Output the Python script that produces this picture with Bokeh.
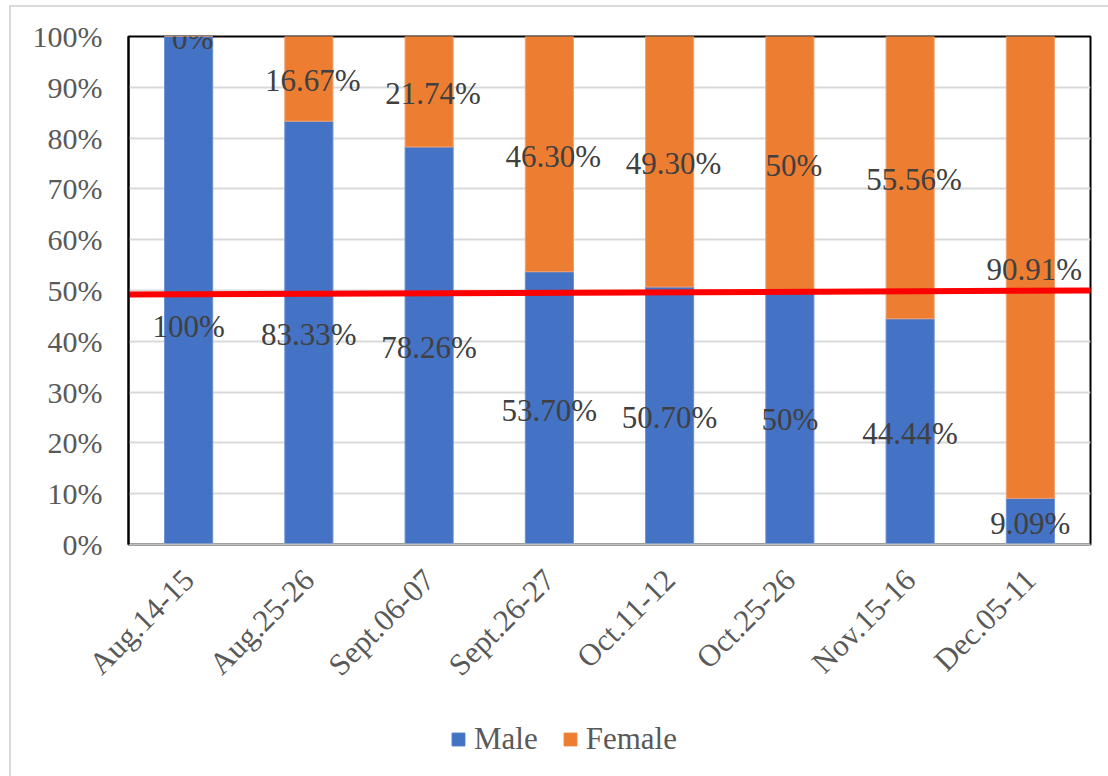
import math
from bokeh.plotting import figure
from bokeh.layouts import column
from bokeh.models import ColumnDataSource, Legend, LegendItem, FactorRange, NumeralTickFormatter, FixedTicker, Range1d
from bokeh.core.properties import value
from bokeh.embed import file_html
from bokeh.resources import INLINE

categories = ["Aug.14-15", "Aug.25-26", "Sept.06-07", "Sept.26-27",
              "Oct.11-12", "Oct.25-26", "Nov.15-16", "Dec.05-11"]
male = [100, 83.33, 78.26, 53.70, 50.70, 50, 44.44, 9.09]
female = [0, 16.67, 21.74, 46.30, 49.30, 50, 55.56, 90.91]
male_labels = ["100%", "83.33%", "78.26%", "53.70%", "50.70%", "50%", "44.44%", "9.09%"]
female_labels = ["0%", "16.67%", "21.74%", "46.30%", "49.30%", "50%", "55.56%", "90.91%"]
series_names = ["Male", "Female"]
y_ticks = [0, 10, 20, 30, 40, 50, 60, 70, 80, 90, 100]
ref_line_y = [49.2, 50.0]

BLUE = "#4472C4"
ORANGE = "#ED7D31"
FONT = "Liberation Serif"

W = 1097
p = figure(x_range=FactorRange(*categories, range_padding=0), y_range=Range1d(0, 100),
           width=W, height=704, output_backend="svg", toolbar_location=None,
           min_border_left=117, min_border_right=18, min_border_top=29, min_border_bottom=167)
p.frame_width = 962
p.frame_height = 508

src = ColumnDataSource(dict(
    cat=categories,
    male_top=male, female_bottom=male, female_top=[m + f for m, f in zip(male, female)],
))

p.vbar(x="cat", bottom=0, top="male_top", width=0.4, source=src,
       fill_color=BLUE, line_color="#6a8fd4", line_width=1)
p.vbar(x="cat", bottom="female_bottom", top="female_top", width=0.4, source=src,
       fill_color=ORANGE, line_color="#f0a070", line_width=1)

# reference line
p.line(x=[-0.01, 8.02], y=ref_line_y, line_color="#FF0000", line_width=6)

# data labels
LAB = dict(text_align="center", text_baseline="middle", text_font=value(FONT),
           text_font_size="31px", text_color="#404040")
lab_m = ColumnDataSource(dict(cat=categories[1:], y=[m / 2 for m in male[1:]], t=male_labels[1:]))
p.text(x="cat", y="y", text="t", source=lab_m, y_offset=2, **LAB)
lab_m0 = ColumnDataSource(dict(cat=categories[:1], y=[male[0] / 2], t=male_labels[:1]))
p.text(x="cat", y="y", text="t", source=lab_m0, y_offset=36, **LAB)
lab_f = ColumnDataSource(dict(cat=categories, y=[m + f / 2 for m, f in zip(male, female)], t=female_labels))
p.text(x="cat", y="y", text="t", source=lab_f, x_offset=4, y_offset=2, **LAB)

# axes
p.yaxis.ticker = FixedTicker(ticks=y_ticks)
p.yaxis.formatter = NumeralTickFormatter(format="0")
p.yaxis.major_label_overrides = {t: f"{t}%" for t in y_ticks}
p.yaxis.major_label_text_font = FONT
p.yaxis.major_label_text_font_size = "30px"
p.yaxis.major_label_text_color = "#595959"
p.yaxis.major_tick_line_color = None
p.yaxis.major_tick_out = 0
p.yaxis.minor_tick_line_color = None
p.yaxis.axis_line_color = "black"
p.yaxis.axis_line_width = 2
p.yaxis.major_label_standoff = 26

p.xaxis.major_label_orientation = math.pi / 4
p.xaxis.major_label_text_font = FONT
p.xaxis.major_label_text_font_size = "31px"
p.xaxis.major_label_text_color = "#595959"
p.xaxis.major_tick_line_color = None
p.xaxis.major_tick_out = 0
p.xaxis.axis_line_color = "#bfbfbf"
p.xaxis.axis_line_width = 2
p.xaxis.major_label_standoff = 30

p.xgrid.grid_line_color = None
p.ygrid.grid_line_color = "#d9d9d9"
p.ygrid.grid_line_width = 2

p.outline_line_color = "black"
p.outline_line_width = 2
p.background_fill_color = "white"
p.border_fill_color = "white"

# legend strip below the chart (its frame is aligned with the chart frame)
p2 = figure(width=W, height=65, x_range=Range1d(0, 1), y_range=Range1d(0, 1),
            output_backend="svg", toolbar_location=None,
            min_border_left=0, min_border_right=0, min_border_top=0, min_border_bottom=0)
p2.axis.visible = False
p2.grid.grid_line_color = None
p2.outline_line_color = None
p2.background_fill_color = "white"
p2.border_fill_color = "white"
# legend-only renderers, kept outside the visible range
lg_m = p2.vbar(x=[-5], bottom=[-6], top=[-5], width=0.1, fill_color=BLUE, line_color=BLUE)
lg_f = p2.vbar(x=[-5], bottom=[-6], top=[-5], width=0.1, fill_color=ORANGE, line_color=ORANGE)
legend = Legend(items=[LegendItem(label=series_names[0], renderers=[lg_m]),
                       LegendItem(label=series_names[1], renderers=[lg_f])],
                orientation="horizontal", location=(322, 19), padding=4, margin=0,
                label_text_font=FONT, label_text_font_size="31px", label_text_color="#595959",
                glyph_width=16, glyph_height=16, spacing=24, label_standoff=8,
                border_line_color=None, background_fill_alpha=0)
p2.add_layout(legend, "center")

layout = column(p, p2, spacing=0)
layout.styles = {"border-left": "2px solid #d9d9d9", "border-top": "2px solid #d9d9d9",
                 "margin-left": "9px", "margin-top": "5px"}

open("out.html", "w").write(file_html(layout, INLINE))
